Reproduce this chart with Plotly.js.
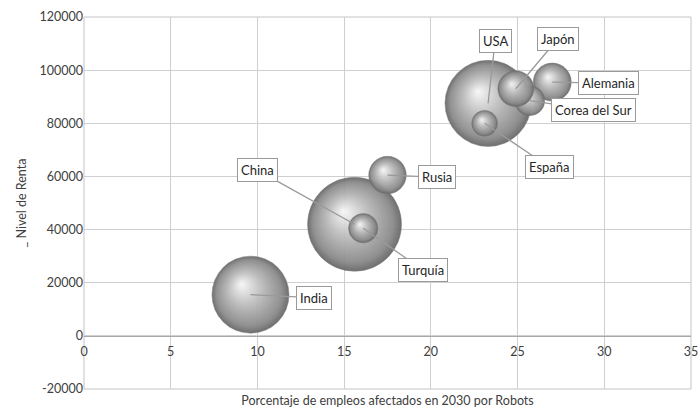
<!DOCTYPE html>
<html>
<head>
<meta charset="utf-8">
<script src="https://cdn.plot.ly/plotly-3.0.1.min.js"></script>
<style>html,body{margin:0;padding:0;background:#fff;}#chart{width:698px;height:412px;}</style>
</head>
<body>
<div id="chart"></div>
<script>
// Data (drawn largest first so small bubbles sit on top)
const paises = ['China', 'USA', 'India', 'Alemania', 'Rusia', 'Corea del Sur', 'Japón', 'Turquía', 'España'];
const empleosAfectados = [15.6, 23.3, 9.6, 27.0, 17.5, 25.7, 24.9, 16.1, 23.1];
const nivelRenta = [42000, 87500, 15500, 95500, 60500, 88500, 93000, 40500, 80000];
const tamano = [2260, 1900, 1520, 370, 360, 230, 330, 220, 170];
const xTicks = [0, 5, 10, 15, 20, 25, 30, 35];
const yTicks = [-20000, 0, 20000, 40000, 60000, 80000, 100000, 120000];

// label offsets (pixels) for callouts
const labelOffsets = {
  'China': [-97, -54], 'USA': [7, -62], 'India': [64, 3], 'Alemania': [56, 1],
  'Rusia': [49, 2], 'Corea del Sur': [64, 9], 'Japón': [42, -50],
  'Turquía': [60, 42], 'España': [65, 44]
};

const maxDiameter = 94;
const sizeref = 2 * Math.max(...tamano) / (maxDiameter * maxDiameter);

const trace = {
  type: 'scatter',
  mode: 'markers',
  x: empleosAfectados,
  y: nivelRenta,
  text: paises,
  hoverinfo: 'text',
  marker: {
    size: tamano,
    sizemode: 'area',
    sizeref: sizeref,
    color: '#6a6a6a',
    opacity: 0.94,
    gradient: {type: 'radial', color: '#ececec'},
    line: {color: '#7a7a7a', width: 0.5}
  }
};

const annotations = paises.map((p, i) => ({
  x: empleosAfectados[i], y: nivelRenta[i], xref: 'x', yref: 'y',
  text: p, showarrow: true, arrowhead: 0, arrowwidth: 1.3, arrowcolor: '#9a9a9a',
  ax: labelOffsets[p][0], ay: labelOffsets[p][1],
  font: {family: 'Lato, "Open Sans", sans-serif', size: 13, color: '#262626'},
  bgcolor: '#ffffff', bordercolor: '#9a9a9a', borderwidth: 1, borderpad: 3
}));

const layout = {
  width: 698, height: 412,
  margin: {l: 84, r: 7, t: 17, b: 23},
  paper_bgcolor: '#ffffff', plot_bgcolor: '#ffffff',
  showlegend: false,
  font: {family: 'Lato, "Open Sans", sans-serif', color: '#404040', size: 12},
  xaxis: {
    range: [0, 35], tickvals: xTicks, ticktext: xTicks.map(String),
    showgrid: true, gridcolor: '#cfcfcf', gridwidth: 1,
    zeroline: false, showline: true, linecolor: '#a8a8a8', linewidth: 1,
    anchor: 'free', position: 20000 / 140000,
    ticks: '', ticklen: 0, ticklabelstandoff: 4, ticklabeloverflow: 'allow',
    tickfont: {size: 12.5, color: '#404040'},
    title: {text: 'Porcentaje de empleos afectados en 2030 por Robots', standoff: 38,
            font: {size: 12.5, color: '#404040'}},
    automargin: false, fixedrange: true
  },
  yaxis: {
    range: [-20000, 120000], tickvals: yTicks, ticktext: yTicks.map(String),
    showgrid: true, gridcolor: '#cfcfcf', gridwidth: 1,
    zeroline: false, showline: false,
    ticks: '', tickfont: {size: 12.5, color: '#404040'},
    title: {text: '_ Nivel de Renta', standoff: 10, font: {size: 12.5, color: '#404040'}},
    automargin: false, fixedrange: true
  },
  shapes: [
    {type: 'rect', xref: 'paper', yref: 'paper', x0: 0, x1: 1, y0: 0, y1: 1,
     line: {color: '#c4c4c4', width: 1}, layer: 'below'}
  ],
  annotations: annotations
};

Plotly.newPlot('chart', [trace], layout, {displayModeBar: false, staticPlot: true}).then(() => {
  // give the radial gradients an off-centre highlight for a sphere look
  const ns = 'http://www.w3.org/2000/svg';
  document.querySelectorAll('radialGradient').forEach(g => {
    g.setAttribute('fx', '0.38');
    g.setAttribute('fy', '0.36');
    while (g.firstChild) g.removeChild(g.firstChild);
    [['0', '#f7f7f7'], ['0.45', '#b9b9b9'], ['0.85', '#8a8a8a'], ['1', '#666666']].forEach(([o, c]) => {
      const s = document.createElementNS(ns, 'stop');
      s.setAttribute('offset', o);
      s.setAttribute('stop-color', c);
      g.appendChild(s);
    });
  });
});
</script>
</body>
</html>
